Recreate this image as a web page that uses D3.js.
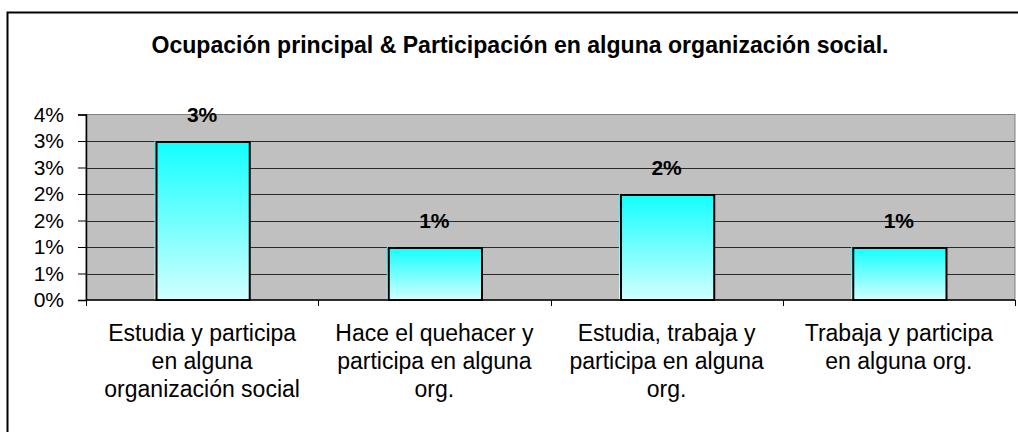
<!DOCTYPE html>
<html>
<head>
<meta charset="utf-8">
<script src="https://cdn.jsdelivr.net/npm/d3@7"></script>
<style>
  html, body { margin: 0; padding: 0; background: #fff; }
  svg { display: block; }
  text { font-family: Arial, "Liberation Sans", sans-serif; }
</style>
</head>
<body>
<svg id="chart" width="1018" height="432"></svg>
<script>
// Chart data
const title = "Ocupación principal & Participación en alguna organización social.";
const categories = [
  ["Estudia y participa", "en alguna", "organización social"],
  ["Hace el quehacer y", "participa en alguna", "org."],
  ["Estudia, trabaja y", "participa en alguna", "org."],
  ["Trabaja y participa", "en alguna org."]
];
const values = [3, 1, 2, 1];            // percent
const yTicks = [0, 0.5, 1, 1.5, 2, 2.5, 3, 3.5];
const yMax = 3.5;

const svg = d3.select("#chart");
const plot = { left: 86, right: 1015, top: 114.5, bottom: 300 };

// Outer chart frame (runs off the right and bottom edges)
svg.append("rect")
  .attr("x", 7.5).attr("y", 12.5)
  .attr("width", 1100).attr("height", 600)
  .attr("fill", "#fff").attr("stroke", "#000").attr("stroke-width", 2);

// Title, condensed to its box
svg.append("text")
  .attr("x", 520).attr("y", 53)
  .attr("text-anchor", "middle")
  .attr("font-size", 24.5).attr("font-weight", "bold")
  .attr("textLength", 737).attr("lengthAdjust", "spacingAndGlyphs")
  .text(title);

// Scales
const x = d3.scaleBand()
  .domain(d3.range(categories.length))
  .range([plot.left, plot.right])
  .paddingInner(0.59).paddingOuter(0.295);
const y = d3.scaleLinear().domain([0, yMax]).range([plot.bottom, plot.top]);

// Plot area background
svg.append("rect")
  .attr("x", plot.left).attr("y", plot.top)
  .attr("width", plot.right - plot.left).attr("height", plot.bottom - plot.top)
  .attr("fill", "#c0c0c0").attr("stroke", "#808080").attr("stroke-width", 1);

// Horizontal gridlines
svg.append("g").selectAll("line")
  .data(yTicks.filter(d => d > 0 && d < yMax))
  .join("line")
  .attr("x1", plot.left).attr("x2", plot.right)
  .attr("y1", d => Math.round(y(d)) + 0.5).attr("y2", d => Math.round(y(d)) + 0.5)
  .attr("stroke", "#2a2a2a").attr("stroke-width", 1);

// Gradient for bars
const defs = svg.append("defs");
const grad = defs.append("linearGradient")
  .attr("id", "barGrad").attr("x1", 0).attr("y1", 0).attr("x2", 0).attr("y2", 1);
grad.append("stop").attr("offset", "0%").attr("stop-color", "#10ffff");
grad.append("stop").attr("offset", "100%").attr("stop-color", "#d2ffff");

// Bars
const bars = svg.append("g");
bars.selectAll("rect.fill")
  .data(values)
  .join("rect")
  .attr("class", "fill")
  .attr("x", (d, i) => x(i))
  .attr("y", d => y(d))
  .attr("width", x.bandwidth())
  .attr("height", d => y(0) - y(d))
  .attr("fill", "url(#barGrad)");
bars.selectAll("rect.edge")
  .data(values)
  .join("rect")
  .attr("class", "edge")
  .attr("x", (d, i) => x(i) + 2)
  .attr("y", d => y(d) + 1)
  .attr("width", x.bandwidth() - 2)
  .attr("height", d => y(0) - y(d) - 1)
  .attr("fill", "none")
  .attr("stroke", "#000").attr("stroke-width", 2);

// Value labels
svg.append("g").selectAll("text")
  .data(values)
  .join("text")
  .attr("x", (d, i) => x(i) + x.bandwidth() / 2)
  .attr("y", d => y(d) - 19)
  .attr("text-anchor", "middle")
  .attr("font-size", 21).attr("font-weight", "bold")
  .text(d => d3.format(".0f")(d) + "%");

// Y axis
const yAxis = d3.axisLeft(y)
  .tickValues(yTicks)
  .tickSize(8).tickPadding(14)
  .tickFormat(d => d3.format(".0f")(d + 1e-9) + "%");
const gy = svg.append("g")
  .attr("transform", `translate(${plot.left},0)`)
  .call(yAxis);
gy.select(".domain").attr("stroke", "#000").attr("stroke-width", 1.5);
gy.selectAll(".tick line").attr("stroke", "#000");
gy.selectAll(".tick text")
  .attr("font-size", 21).attr("fill", "#000")
  .attr("font-family", "Arial, 'Liberation Sans', sans-serif");

// X axis baseline and band ticks
const xg = svg.append("g");
xg.append("line")
  .attr("x1", plot.left).attr("x2", plot.right)
  .attr("y1", plot.bottom).attr("y2", plot.bottom)
  .attr("stroke", "#000").attr("stroke-width", 1.5);
const bounds = d3.range(categories.length + 1).map(i => plot.left + i * x.step());
xg.selectAll("line.tk")
  .data(bounds)
  .join("line")
  .attr("class", "tk")
  .attr("x1", d => Math.round(d) + 0.5).attr("x2", d => Math.round(d) + 0.5)
  .attr("y1", plot.bottom).attr("y2", plot.bottom + 6)
  .attr("stroke", "#000");

// Category labels
const cat = svg.append("g").selectAll("text")
  .data(categories)
  .join("text")
  .attr("text-anchor", "middle")
  .attr("font-size", 23)
  .attr("x", (d, i) => x(i) + x.bandwidth() / 2);
cat.selectAll("tspan")
  .data(d => d)
  .join("tspan")
  .attr("x", function () { return d3.select(this.parentNode).attr("x"); })
  .attr("y", (d, j) => 341 + j * 28)
  .text(d => d);
</script>
</body>
</html>
